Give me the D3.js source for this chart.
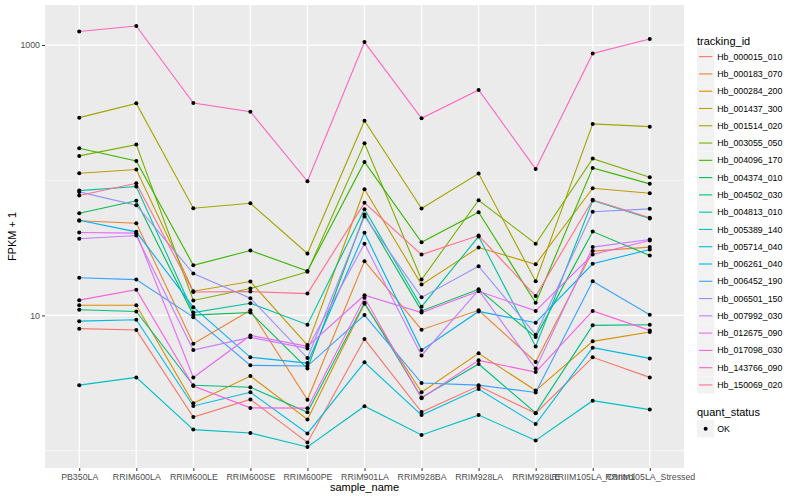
<!DOCTYPE html>
<html>
<head>
<meta charset="utf-8">
<script src="https://cdn.jsdelivr.net/npm/d3@7"></script>
<style>
  body { margin: 0; background: #fff; }
  text { font-family: "Liberation Sans", Arial, sans-serif; }
</style>
</head>
<body>
<svg id="chart" width="800" height="500"></svg>
<script>
// sample names (x categories)
const samples = ["PB350LA", "RRIM600LA", "RRIM600LE", "RRIM600SE", "RRIM600PE", "RRIM901LA",
  "RRIM928BA", "RRIM928LA", "RRIM928LE", "RRIIM105LA_Control", "RRIIM105LA_Stressed"];

// FPKM + 1 per tracking id, one value per sample
const hb_000015_010 = [7.98, 7.79, 1.77, 2.39, 1.15, 6.68, 1.93, 3.0, 1.89, 4.9, 3.48];
const hb_000183_070 = [50.1, 48.1, 6.18, 10.9, 2.38, 25.2, 7.84, 10.9, 4.52, 29.9, 32.0];
const hb_000284_200 = [11.9, 11.9, 2.24, 3.56, 1.70, 12.2, 2.7, 5.24, 2.78, 6.43, 7.53];
const hb_001437_300 = [112.6, 119.9, 15.1, 17.8, 6.03, 85.7, 16.9, 31.8, 23.9, 87.2, 80.1];
const hb_001514_020 = [290.4, 370.3, 62.1, 67.6, 28.7, 275.8, 61.7, 112, 17.9, 260.9, 249.1];
const hb_003055_050 = [151.3, 183.4, 12.9, 15.8, 21.0, 187.5, 18.4, 71.1, 33.9, 144.5, 105.1];
const hb_004096_170 = [172.2, 139, 23.5, 30.2, 21.3, 136.6, 34.8, 58, 12.4, 123.4, 94];
const hb_004374_010 = [57, 70.4, 10.05, 10.5, 4.04, 55.8, 10.8, 15.6, 6.91, 41.7, 27.8];
const hb_004502_030 = [11.0, 10.7, 3.04, 2.94, 1.92, 12.4, 2.47, 4.37, 1.90, 8.44, 8.54];
const hb_004813_010 = [83.8, 89.8, 10.5, 12.3, 8.54, 61, 11.6, 38.3, 5.9, 70.7, 52.1];
const hb_005389_140 = [3.05, 3.48, 1.43, 1.35, 1.064, 2.13, 1.305, 1.83, 1.19, 2.34, 2.01];
const hb_005714_040 = [9.07, 9.29, 2.14, 2.7, 1.34, 4.5, 1.83, 2.85, 1.57, 5.77, 4.81];
const hb_006261_040 = [50.6, 41.5, 11.5, 4.9, 4.44, 40.8, 5.54, 10.7, 8.83, 24.1, 30.7];
const hb_006452_190 = [19, 18.4, 9.71, 4.27, 4.22, 10.05, 3.16, 3.05, 2.69, 17.9, 10.1];
const hb_006501_150 = [82, 65.3, 20.4, 13.4, 4.84, 53.9, 13.6, 23.1, 7.2, 58.4, 61.4];
const hb_007992_030 = [36.9, 39, 5.54, 6.88, 5.7, 33.9, 5.06, 15.4, 4.04, 32, 36.4];
const hb_012675_090 = [41, 40.6, 3.47, 7.11, 5.9, 14.1, 10.5, 15.1, 10.8, 28.2, 35.8];
const hb_017098_030 = [12.97, 15.5, 3.0, 2.07, 2.06, 13.5, 2.44, 4.65, 3.81, 10.8, 7.75];
const hb_143766_090 = [1260, 1382, 372.8, 321.5, 98.2, 1052, 286.9, 465, 121.3, 867, 1107];
const hb_150069_020 = [77, 94.9, 14.9, 15, 14.5, 68, 28.2, 39, 13.9, 71.6, 52.7];

const trackingIds = ["Hb_000015_010", "Hb_000183_070", "Hb_000284_200", "Hb_001437_300",
  "Hb_001514_020", "Hb_003055_050", "Hb_004096_170", "Hb_004374_010", "Hb_004502_030",
  "Hb_004813_010", "Hb_005389_140", "Hb_005714_040", "Hb_006261_040", "Hb_006452_190",
  "Hb_006501_150", "Hb_007992_030", "Hb_012675_090", "Hb_017098_030", "Hb_143766_090",
  "Hb_150069_020"];
const seriesValues = [hb_000015_010, hb_000183_070, hb_000284_200, hb_001437_300,
  hb_001514_020, hb_003055_050, hb_004096_170, hb_004374_010, hb_004502_030,
  hb_004813_010, hb_005389_140, hb_005714_040, hb_006261_040, hb_006452_190,
  hb_006501_150, hb_007992_030, hb_012675_090, hb_017098_030, hb_143766_090,
  hb_150069_020];

const yMajor = [10, 1000];
const yMinor = [1, 100];
const quantStatus = ["OK"];

// ggplot hue palette for 20 groups
const palette = ["#F8766D", "#EA8331", "#D89000", "#C09B00", "#A3A500", "#7CAE00", "#39B600",
  "#00BB4E", "#00BF7D", "#00C1A3", "#00BFC4", "#00BAE0", "#00B0F6", "#35A2FF", "#9590FF",
  "#C77CFF", "#E76BF3", "#FA62DB", "#FF62BC", "#FF6C91"];

const width = 800;
const height = 500;
const panel = { l: 45, t: 5, r: 684, b: 468 };

const svg = d3.select("#chart");

const data = trackingIds.map((id, i) => ({
  id: id,
  color: palette[i],
  values: samples.map((s, j) => ({ sample: s, value: seriesValues[i][j] }))
}));

const x = d3.scalePoint()
  .domain(samples)
  .range([panel.l, panel.r])
  .padding(0.6);

// log scale with 5% expansion like ggplot
const allVals = seriesValues.flat();
const lo = Math.log10(d3.min(allVals));
const hi = Math.log10(d3.max(allVals));
const pad = (hi - lo) * 0.05;
const y = d3.scaleLog()
  .domain([Math.pow(10, lo - pad), Math.pow(10, hi + pad)])
  .range([panel.b, panel.t]);

const color = d3.scaleOrdinal().domain(trackingIds).range(palette);

// panel background
svg.append("rect")
  .attr("x", panel.l).attr("y", panel.t)
  .attr("width", panel.r - panel.l).attr("height", panel.b - panel.t)
  .attr("fill", "#EBEBEB");

const grid = svg.append("g");
grid.selectAll(".minor")
  .data(yMinor)
  .join("line")
  .attr("x1", panel.l).attr("x2", panel.r)
  .attr("y1", (d) => y(d)).attr("y2", (d) => y(d))
  .attr("stroke", "#fff").attr("stroke-width", 0.6);
grid.selectAll(".major")
  .data(yMajor)
  .join("line")
  .attr("x1", panel.l).attr("x2", panel.r)
  .attr("y1", (d) => y(d)).attr("y2", (d) => y(d))
  .attr("stroke", "#fff").attr("stroke-width", 1.2);
grid.selectAll(".vx")
  .data(samples)
  .join("line")
  .attr("x1", (d) => x(d)).attr("x2", (d) => x(d))
  .attr("y1", panel.t).attr("y2", panel.b)
  .attr("stroke", "#fff").attr("stroke-width", 1.2);

// lines
const line = d3.line()
  .x((d) => x(d.sample))
  .y((d) => y(d.value));

svg.append("g")
  .selectAll("path")
  .data(data)
  .join("path")
  .attr("fill", "none")
  .attr("stroke", (d) => color(d.id))
  .attr("stroke-width", 1.1)
  .attr("d", (d) => line(d.values));

// points
svg.append("g")
  .selectAll("circle")
  .data(data.flatMap((d) => d.values))
  .join("circle")
  .attr("cx", (d) => x(d.sample))
  .attr("cy", (d) => y(d.value))
  .attr("r", 2)
  .attr("fill", "#000");

// axes
const yAxis = svg.append("g")
  .attr("transform", `translate(${panel.l},0)`)
  .call(d3.axisLeft(y).tickValues(yMajor).tickFormat(d3.format("d")).tickSize(3).tickPadding(2));
const xAxis = svg.append("g")
  .attr("transform", `translate(0,${panel.b})`)
  .call(d3.axisBottom(x).tickSize(3).tickPadding(3));

[yAxis, xAxis].forEach((g) => {
  g.select(".domain").remove();
  g.selectAll(".tick line").attr("stroke", "#333333").attr("stroke-width", 1);
  g.selectAll(".tick text")
    .attr("fill", "#4D4D4D")
    .attr("font-size", 8.8)
    .attr("font-family", "Liberation Sans, Arial, sans-serif");
});

// axis titles
svg.append("text")
  .attr("x", (panel.l + panel.r) / 2)
  .attr("y", 491)
  .attr("text-anchor", "middle")
  .attr("font-size", 11)
  .attr("fill", "#000")
  .text("sample_name");

svg.append("text")
  .attr("transform", `translate(16,${(panel.t + panel.b) / 2}) rotate(-90)`)
  .attr("text-anchor", "middle")
  .attr("font-size", 11)
  .attr("fill", "#000")
  .text("FPKM + 1");

// legend: tracking_id
const legX = 697;
const keySize = 17.28;
const legend = svg.append("g");
legend.append("text")
  .attr("x", legX).attr("y", 45)
  .attr("font-size", 11)
  .text("tracking_id");

const keys = legend.append("g")
  .attr("transform", "translate(0,48)")
  .selectAll("g")
  .data(trackingIds)
  .join("g")
  .attr("transform", (d, i) => `translate(${legX},${i * keySize})`);

keys.append("rect")
  .attr("width", keySize).attr("height", keySize)
  .attr("fill", "#F2F2F2");
keys.append("line")
  .attr("x1", 2).attr("x2", keySize - 2)
  .attr("y1", keySize / 2).attr("y2", keySize / 2)
  .attr("stroke", (d) => color(d))
  .attr("stroke-width", 1.1);
keys.append("text")
  .attr("x", keySize + 3)
  .attr("y", keySize / 2 + 3.1)
  .attr("font-size", 8.8)
  .text((d) => d);

// legend: quant_status
const legend2 = svg.append("g");
legend2.append("text")
  .attr("x", legX).attr("y", 416)
  .attr("font-size", 11)
  .text("quant_status");

const keys2 = legend2.append("g")
  .attr("transform", "translate(0,420)")
  .selectAll("g")
  .data(quantStatus)
  .join("g")
  .attr("transform", (d, i) => `translate(${legX},${i * keySize})`);
keys2.append("rect")
  .attr("width", keySize).attr("height", keySize)
  .attr("fill", "#F2F2F2");
keys2.append("circle")
  .attr("cx", keySize / 2).attr("cy", keySize / 2)
  .attr("r", 2).attr("fill", "#000");
keys2.append("text")
  .attr("x", keySize + 3)
  .attr("y", keySize / 2 + 3.1)
  .attr("font-size", 8.8)
  .text((d) => d);
</script>
</body>
</html>
